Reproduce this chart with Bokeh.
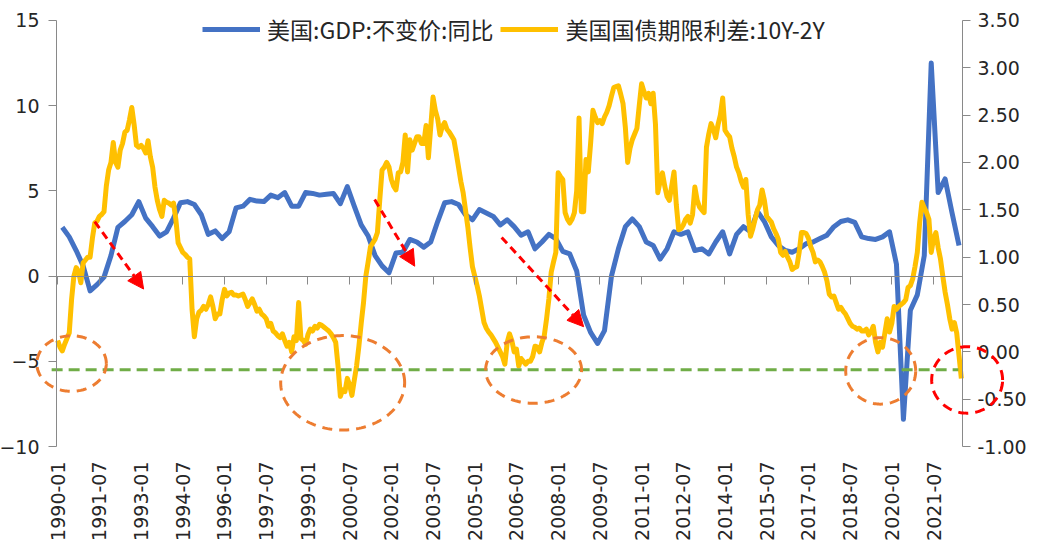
import numpy as np
from bokeh.plotting import figure
from bokeh.models import (Range1d, LinearAxis, FixedTicker, Legend, LegendItem,
                          Arrow, NormalHead, PolyAnnotation, NumeralTickFormatter)
from bokeh.embed import file_html
from bokeh.resources import INLINE

# ---------------- data ----------------
N_MONTHS = 391  # 1990-01 .. 2022-07

TICK_LABELS = ["1990-01", "1991-07", "1993-01", "1994-07", "1996-01", "1997-07",
               "1999-01", "2000-07", "2002-01", "2003-07", "2005-01", "2006-07",
               "2008-01", "2009-07", "2011-01", "2012-07", "2014-01", "2015-07",
               "2017-01", "2018-07", "2020-01", "2021-07"]

# US real GDP YoY (%), quarterly 1990Q1 .. 2022Q2
gdp_yoy = [
    2.86, 2.3, 1.5, 0.6,
    -0.87, -0.5, -0.06, 1.2,
    2.86, 3.2, 3.6, 4.37,
    3.4, 2.9, 2.35, 2.6,
    3.4, 4.3, 4.37, 4.2,
    3.6, 2.45, 2.65, 2.2,
    2.6, 4.0, 4.1, 4.5,
    4.4, 4.37, 4.75, 4.6,
    4.9, 4.1, 4.1, 4.9,
    4.85, 4.75, 4.8, 4.85,
    4.25, 5.25, 4.1, 3.0,
    2.35, 1.2, 0.6, 0.2,
    1.35, 1.4, 2.15, 2.0,
    1.7, 2.0, 3.2, 4.3,
    4.37, 4.2, 3.6, 3.3,
    3.9, 3.7, 3.5, 3.0,
    3.3, 2.9, 2.4, 2.6,
    1.6, 2.0, 2.45, 2.2,
    1.45, 1.3, 0.3, -2.3,
    -3.3, -3.95, -3.2, 0.0,
    1.6, 2.9, 3.35, 2.9,
    2.0, 1.8, 1.0, 1.6,
    2.6, 2.45, 2.6, 1.5,
    1.6, 1.3, 2.0, 2.6,
    1.3, 2.45, 2.9, 2.6,
    3.8, 3.2, 2.3, 1.8,
    1.5, 1.4, 1.6, 1.9,
    2.0, 2.2, 2.4, 2.9,
    3.2, 3.3, 3.15, 2.3,
    2.2, 2.15, 2.3, 2.6,
    0.7, -8.4, -2.0, -1.1,
    1.2, 12.5, 4.9, 5.7,
    3.7, 1.8,
]

# US Treasury 10Y-2Y spread (%), monthly 1990-01 .. 2022-07
spread_10y2y = [
    0.12, 0.05, 0.01, 0.08, 0.14, 0.20, 0.55, 0.80, 0.89, 0.85, 0.73, 0.94,   # 1990
    0.97, 1.00, 1.00, 1.20, 1.36, 1.38, 1.43, 1.45, 1.48, 1.75, 1.92, 2.00,   # 1991
    2.21, 2.00, 1.95, 2.13, 2.20, 2.32, 2.34, 2.45, 2.58, 2.40, 2.18, 2.16,   # 1992
    2.18, 2.15, 2.10, 2.23, 2.06, 1.95, 1.74, 1.60, 1.50, 1.43, 1.60, 1.58,   # 1993
    1.57, 1.55, 1.57, 1.40, 1.15, 1.10, 1.05, 1.03, 1.00, 0.98, 0.45, 0.16,   # 1994
    0.35, 0.42, 0.44, 0.48, 0.45, 0.50, 0.58, 0.48, 0.35, 0.40, 0.40, 0.55,   # 1995
    0.66, 0.59, 0.62, 0.63, 0.60, 0.60, 0.59, 0.60, 0.61, 0.55, 0.48, 0.52,   # 1996
    0.56, 0.50, 0.43, 0.45, 0.40, 0.38, 0.35, 0.27, 0.30, 0.22, 0.20, 0.17,   # 1997
    0.15, 0.19, 0.12, 0.06, 0.10, 0.00, 0.16, 0.12, 0.52, 0.14, 0.12, 0.08,   # 1998
    0.18, 0.24, 0.22, 0.27, 0.25, 0.29, 0.28, 0.26, 0.24, 0.22, 0.19, 0.15,   # 1999
    0.10, -0.15, -0.47, -0.40, -0.42, -0.28, -0.35, -0.46, -0.30, -0.15, 0.06, 0.30,  # 2000
    0.52, 0.80, 0.95, 1.11, 1.15, 1.19, 1.26, 1.60, 1.92, 1.95, 2.00, 1.95,   # 2001
    1.82, 1.75, 1.71, 1.89, 1.90, 2.00, 2.29, 1.90, 2.24, 2.13, 2.20, 2.27,   # 2002
    2.27, 2.20, 2.20, 2.39, 2.05, 2.37, 2.69, 2.55, 2.46, 2.29, 2.38, 2.42,   # 2003
    2.35, 2.32, 2.28, 2.24, 2.10, 1.95, 1.80, 1.68, 1.50, 1.32, 1.10, 0.90,   # 2004
    0.80, 0.70, 0.59, 0.45, 0.31, 0.25, 0.21, 0.18, 0.14, 0.10, 0.05, 0.00,   # 2005
    -0.05, -0.13, 0.10, 0.19, 0.12, 0.00, 0.03, -0.15, -0.07, -0.10, -0.13, -0.10,  # 2006
    -0.10, -0.05, 0.06, 0.05, 0.00, 0.10, 0.17, 0.35, 0.56, 0.84, 0.95, 1.05,  # 2007
    1.89, 1.85, 1.82, 1.47, 1.40, 1.36, 1.40, 1.47, 1.70, 2.47, 1.48, 1.48,   # 2008
    2.03, 1.90, 2.20, 2.55, 2.48, 2.42, 2.44, 2.41, 2.48, 2.53, 2.60, 2.70,   # 2009
    2.79, 2.80, 2.81, 2.72, 2.62, 2.37, 2.00, 2.15, 2.24, 2.30, 2.36, 2.60,   # 2010
    2.83, 2.75, 2.68, 2.73, 2.62, 2.73, 2.40, 1.68, 1.80, 1.89, 1.75, 1.64,   # 2011
    1.60, 1.75, 1.90, 1.55, 1.29, 1.30, 1.34, 1.40, 1.43, 1.36, 1.45, 1.74,   # 2012
    1.60, 1.53, 1.50, 1.47, 2.16, 2.30, 2.41, 2.35, 2.26, 2.40, 2.50, 2.68,   # 2013
    2.34, 2.30, 2.27, 2.15, 2.06, 1.95, 1.89, 1.80, 1.74, 1.82, 1.45, 1.22,   # 2014
    1.30, 1.40, 1.50, 1.55, 1.71, 1.60, 1.43, 1.40, 1.37, 1.30, 1.25, 1.19,   # 2015
    1.05, 1.02, 1.06, 1.00, 0.95, 0.87, 0.89, 0.90, 1.05, 1.26, 1.26, 1.25,   # 2016
    1.20, 1.11, 1.05, 0.95, 0.97, 0.95, 0.90, 0.84, 0.75, 0.61, 0.58, 0.59,   # 2017
    0.52, 0.45, 0.47, 0.43, 0.40, 0.35, 0.30, 0.27, 0.26, 0.24, 0.25, 0.22,   # 2018
    0.22, 0.24, 0.18, 0.21, 0.27, 0.10, 0.00, 0.10, 0.05, 0.20, 0.35, 0.21,   # 2019
    0.30, 0.48, 0.45, 0.48, 0.50, 0.52, 0.55, 0.68, 0.70, 0.77, 0.90, 1.05,   # 2020
    1.36, 1.58, 1.52, 1.47, 1.40, 1.05, 1.19, 1.26, 1.10, 0.98, 0.80, 0.63,   # 2021
    0.50, 0.35, 0.24, 0.31, 0.20, -0.04, -0.28,                                # 2022
]

GDP_LABEL = "美国:GDP:不变价:同比"
SPREAD_LABEL = "美国国债期限利差:10Y-2Y"

LEFT_RANGE = (-10, 15)
RIGHT_RANGE = (-1.0, 3.5)
LEFT_TICKS = [-10, -5, 0, 5, 10, 15]
RIGHT_TICKS = [-1.0, -0.5, 0.0, 0.5, 1.0, 1.5, 2.0, 2.5, 3.0, 3.5]

# annotations: (month index, left-axis value, width in months, height in left units)
GREEN_LEVEL_SPREAD = -0.19
GREEN_SPAN_MONTHS = (-2.6, 388.7)
ORANGE_ELLIPSES = [(6, -5.13, 30, 3.26), (123, -6.26, 53.5, 5.54),
                   (205.4, -5.51, 41.4, 3.9), (355.2, -5.56, 30.2, 3.9)]
RED_CIRCLE = (392.5, -6.09, 30.6, 3.9)
RED_ARROWS = [(16, 3.2, 37.1, -0.76), (136.8, 4.49, 154.1, 0.58), (191.6, 2.27, 227, -2.97)]

# ---------------- layout / styling ----------------
BLUE = "#4472C4"
YELLOW = "#FFC000"
ORANGE = "#ED7D31"
RED = "#FF0000"
GREEN = "#70AD47"
AXIS_GRAY = "#898989"
TEXT = "#262626"
TICK_FONT = "DejaVu Sans"

W, H = 1035, 543
AX_LEFT_PX, AX_RIGHT_PX, AX_TOP_PX, AX_BOTTOM_PX = 56, 962, 20, 449   # axes box in pixels
FRAME_BOTTOM_PX = 461                                                  # room for lowest tick labels
X_LO, X_HI = -0.5, N_MONTHS - 0.5
px_per_month = (AX_RIGHT_PX - AX_LEFT_PX) / (X_HI - X_LO)
x_start = X_LO - AX_LEFT_PX / px_per_month
x_end = X_HI + (W - AX_RIGHT_PX) / px_per_month
px_per_left = (AX_BOTTOM_PX - AX_TOP_PX) / (LEFT_RANGE[1] - LEFT_RANGE[0])
y_top = LEFT_RANGE[1] + AX_TOP_PX / px_per_left
y_bot = LEFT_RANGE[0] - (FRAME_BOTTOM_PX - AX_BOTTOM_PX) / px_per_left
right_per_left = (RIGHT_RANGE[1] - RIGHT_RANGE[0]) / (LEFT_RANGE[1] - LEFT_RANGE[0])
r_top = RIGHT_RANGE[1] + (y_top - LEFT_RANGE[1]) * right_per_left
r_bot = RIGHT_RANGE[0] - (LEFT_RANGE[0] - y_bot) * right_per_left

month_x = list(range(N_MONTHS))
gdp_x = [3 * q + 2 for q in range(len(gdp_yoy))]
tick_pos = [18 * i for i in range(len(TICK_LABELS))]

p = figure(width=W, height=H, output_backend="svg", toolbar_location=None,
           x_range=Range1d(x_start, x_end), y_range=Range1d(y_bot, y_top),
           y_axis_location=None, min_border=0, min_border_bottom=H - FRAME_BOTTOM_PX)
p.extra_y_ranges = {"right": Range1d(r_bot, r_top)}
p.outline_line_color = None
p.xgrid.visible = False
p.ygrid.visible = False

def style_axis(ax, standoff):
    ax.axis_line_color = AXIS_GRAY
    ax.major_tick_line_color = AXIS_GRAY
    ax.major_tick_out = 8
    ax.major_tick_in = 0
    ax.minor_tick_line_color = None
    ax.major_label_standoff = standoff
    ax.major_label_text_font = TICK_FONT
    ax.major_label_text_font_size = "19px"
    ax.major_label_text_color = TEXT

# left axis (fixed at the left edge of the data area)
la = LinearAxis(fixed_location=X_LO, bounds=LEFT_RANGE, ticker=FixedTicker(ticks=LEFT_TICKS))
style_axis(la, 9)
p.add_layout(la, "left")

# right axis
ra = LinearAxis(y_range_name="right", fixed_location=X_HI, bounds=RIGHT_RANGE,
                ticker=FixedTicker(ticks=RIGHT_TICKS), formatter=NumeralTickFormatter(format="0.00"))
style_axis(ra, 7)
p.add_layout(ra, "right")

# horizontal category axis crossing at 0 (line + ticks, no labels)
za = LinearAxis(fixed_location=0, bounds=(X_LO, X_HI), ticker=FixedTicker(ticks=tick_pos))
style_axis(za, 0)
za.major_label_text_color = None
p.add_layout(za, "below")

# bottom labels
xa = p.xaxis[0]
xa.ticker = FixedTicker(ticks=tick_pos)
xa.major_label_overrides = {t: l for t, l in zip(tick_pos, TICK_LABELS)}
xa.major_label_orientation = np.pi / 2
xa.axis_line_color = None
xa.major_tick_line_color = None
xa.minor_tick_line_color = None
xa.major_tick_out = 0
xa.major_label_standoff = 3
xa.major_label_text_font = TICK_FONT
xa.major_label_text_font_size = "19px"
xa.major_label_text_color = TEXT

# series
r_gdp = p.line(gdp_x, gdp_yoy, line_color=BLUE, line_width=5, line_join="round")
r_spr = p.line(month_x, spread_10y2y, line_color=YELLOW, line_width=5, line_join="round",
               y_range_name="right")

# green dashed threshold (spread level drawn on the right scale)
p.line(list(GREEN_SPAN_MONTHS), [GREEN_LEVEL_SPREAD] * 2, y_range_name="right",
       line_color=GREEN, line_width=3, line_dash="11 6")

# dashed ellipses
t = np.linspace(0, 2 * np.pi, 160)
def ellipse_poly(cx, cy, w, h, color):
    return PolyAnnotation(xs=list(cx + w / 2 * np.cos(t)), ys=list(cy + h / 2 * np.sin(t)),
                          fill_alpha=0, line_color=color, line_alpha=1.0,
                          line_width=3, line_dash="10 7")

for (cx, cy, w, h) in ORANGE_ELLIPSES:
    p.add_layout(ellipse_poly(cx, cy, w, h, ORANGE))
p.add_layout(ellipse_poly(*RED_CIRCLE, RED))

for (x0, y0, x1, y1) in RED_ARROWS:
    p.add_layout(Arrow(end=NormalHead(size=16, fill_color=RED, line_color=RED),
                       x_start=x0, y_start=y0, x_end=x1, y_end=y1,
                       line_color=RED, line_width=3, line_dash="8 5"))

legend = Legend(items=[LegendItem(label=GDP_LABEL, renderers=[r_gdp]),
                       LegendItem(label=SPREAD_LABEL, renderers=[r_spr])],
                orientation="horizontal", location=(202, 412),
                glyph_width=58, glyph_height=24, label_standoff=7, spacing=7,
                padding=0, margin=0, border_line_alpha=0, background_fill_alpha=0,
                label_text_font="Noto Sans CJK SC", label_text_font_size="23px",
                label_text_color=TEXT)
p.add_layout(legend)

open("out.html", "w").write(file_html(p, INLINE))
